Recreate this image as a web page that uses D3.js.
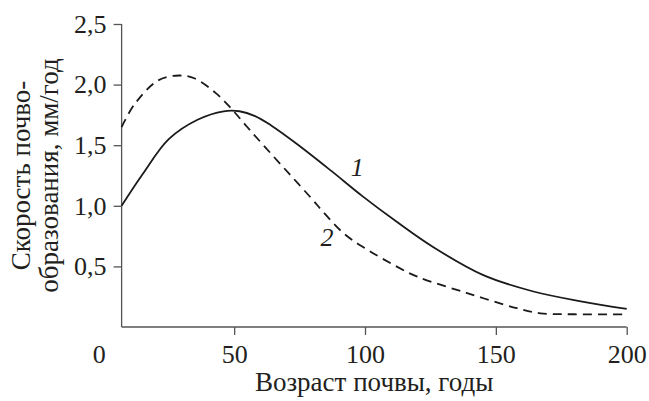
<!DOCTYPE html>
<html><head><meta charset="utf-8">
<script src="https://cdn.jsdelivr.net/npm/d3@7"></script>
<style>
html,body{margin:0;padding:0;background:#fff;}
svg{display:block;}
text{font-family:"Liberation Serif","Times New Roman",serif;fill:#231f20;}
</style></head><body>
<svg id="c" width="649" height="401"></svg>
<script>
// Data
const age1 = [7, 15, 25, 36, 46, 52, 58, 64, 74, 87, 99, 112, 126, 145, 164, 183, 200];
const rate1 = [1.0, 1.26, 1.55, 1.71, 1.78, 1.78, 1.74, 1.665, 1.51, 1.29, 1.08, 0.87, 0.66, 0.43, 0.295, 0.21, 0.15];
const age2 = [7, 12, 21, 29, 35, 43, 49, 55, 62, 71, 80, 84, 92, 100, 112, 120, 139, 158, 167, 180, 200];
const rate2 = [1.65, 1.84, 2.035, 2.075, 2.05, 1.93, 1.80, 1.65, 1.48, 1.265, 1.05, 0.95, 0.77, 0.65, 0.50, 0.415, 0.28, 0.155, 0.113, 0.105, 0.105];
const xTicks = [50, 100, 150, 200];
const yTicks = [0.5, 1.0, 1.5, 2.0, 2.5];
const seriesLabels = [{text: "1", age: 97, rate: 1.32}, {text: "2", age: 85.5, rate: 0.742}];
const xTitle = "Возраст почвы, годы";
const yTitle = ["Скорость почво-", "образования, мм/год"];

const svg = d3.select("#c");
const x = d3.scaleLinear().domain([0, 200]).range([103.3, 626.7]);
const y = d3.scaleLinear().domain([0, 2.5]).range([327, 24]);
const xMin = 7;
const axisColor = "#555";
const fmt = d => d3.format(".1f")(d).replace(".", ",");

// axis lines
svg.append("line").attr("x1", x(xMin)).attr("x2", x(xMin)).attr("y1", y(0)).attr("y2", y(2.5))
  .attr("stroke", axisColor).attr("stroke-width", 1.3);
svg.append("line").attr("x1", x(xMin)).attr("x2", x(200)).attr("y1", y(0)).attr("y2", y(0))
  .attr("stroke", axisColor).attr("stroke-width", 1.3);

const xAxis = svg.append("g").attr("transform", `translate(0,${y(0)})`)
  .call(d3.axisBottom(x).tickValues(xTicks).tickSize(8).tickPadding(10).tickFormat(d3.format("d")));
xAxis.select(".domain").remove();
xAxis.selectAll(".tick line").attr("stroke", axisColor).attr("stroke-width", 1.3);
xAxis.selectAll("text").attr("font-size", 26).attr("fill", "#231f20");
// zero label
svg.append("text").attr("x", x(0) - 4).attr("y", y(0) + 18).attr("dy", "0.71em")
  .attr("text-anchor", "middle").attr("font-size", 26).text("0");

const yAxis = svg.append("g").attr("transform", `translate(${x(xMin)},0)`)
  .call(d3.axisLeft(y).tickValues(yTicks).tickSize(8).tickPadding(7).tickFormat(fmt));
yAxis.select(".domain").remove();
yAxis.selectAll(".tick line").attr("stroke", axisColor).attr("stroke-width", 1.3);
yAxis.selectAll("text").attr("font-size", 26).attr("fill", "#231f20");

// curves
const line = d3.line().x(d => x(d[0])).y(d => y(d[1])).curve(d3.curveCatmullRom.alpha(0.5));
svg.append("path").datum(age1.map((a, i) => [a, rate1[i]])).attr("d", line)
  .attr("fill", "none").attr("stroke", "#1a1a1a").attr("stroke-width", 1.8);
svg.append("path").datum(age2.map((a, i) => [a, rate2[i]])).attr("d", line)
  .attr("fill", "none").attr("stroke", "#1a1a1a").attr("stroke-width", 1.8)
  .attr("stroke-dasharray", "9,6");

// series labels
svg.selectAll(".sl").data(seriesLabels).join("text")
  .attr("x", d => x(d.age)).attr("y", d => y(d.rate)).attr("dy", "0.35em")
  .attr("text-anchor", "middle").attr("font-style", "italic").attr("font-size", 26)
  .text(d => d.text);

// titles
svg.append("text").attr("x", (x(xMin) + x(200)) / 2).attr("y", 391)
  .attr("text-anchor", "middle").attr("font-size", 27).text(xTitle);
const yc = (y(0) + y(2.5)) / 2;
svg.append("text").attr("transform", `translate(30,${yc}) rotate(-90)`)
  .attr("text-anchor", "middle").attr("font-size", 27).text(yTitle[0]);
svg.append("text").attr("transform", `translate(58,${yc}) rotate(-90)`)
  .attr("text-anchor", "middle").attr("font-size", 27).text(yTitle[1]);
</script>
</body></html>
